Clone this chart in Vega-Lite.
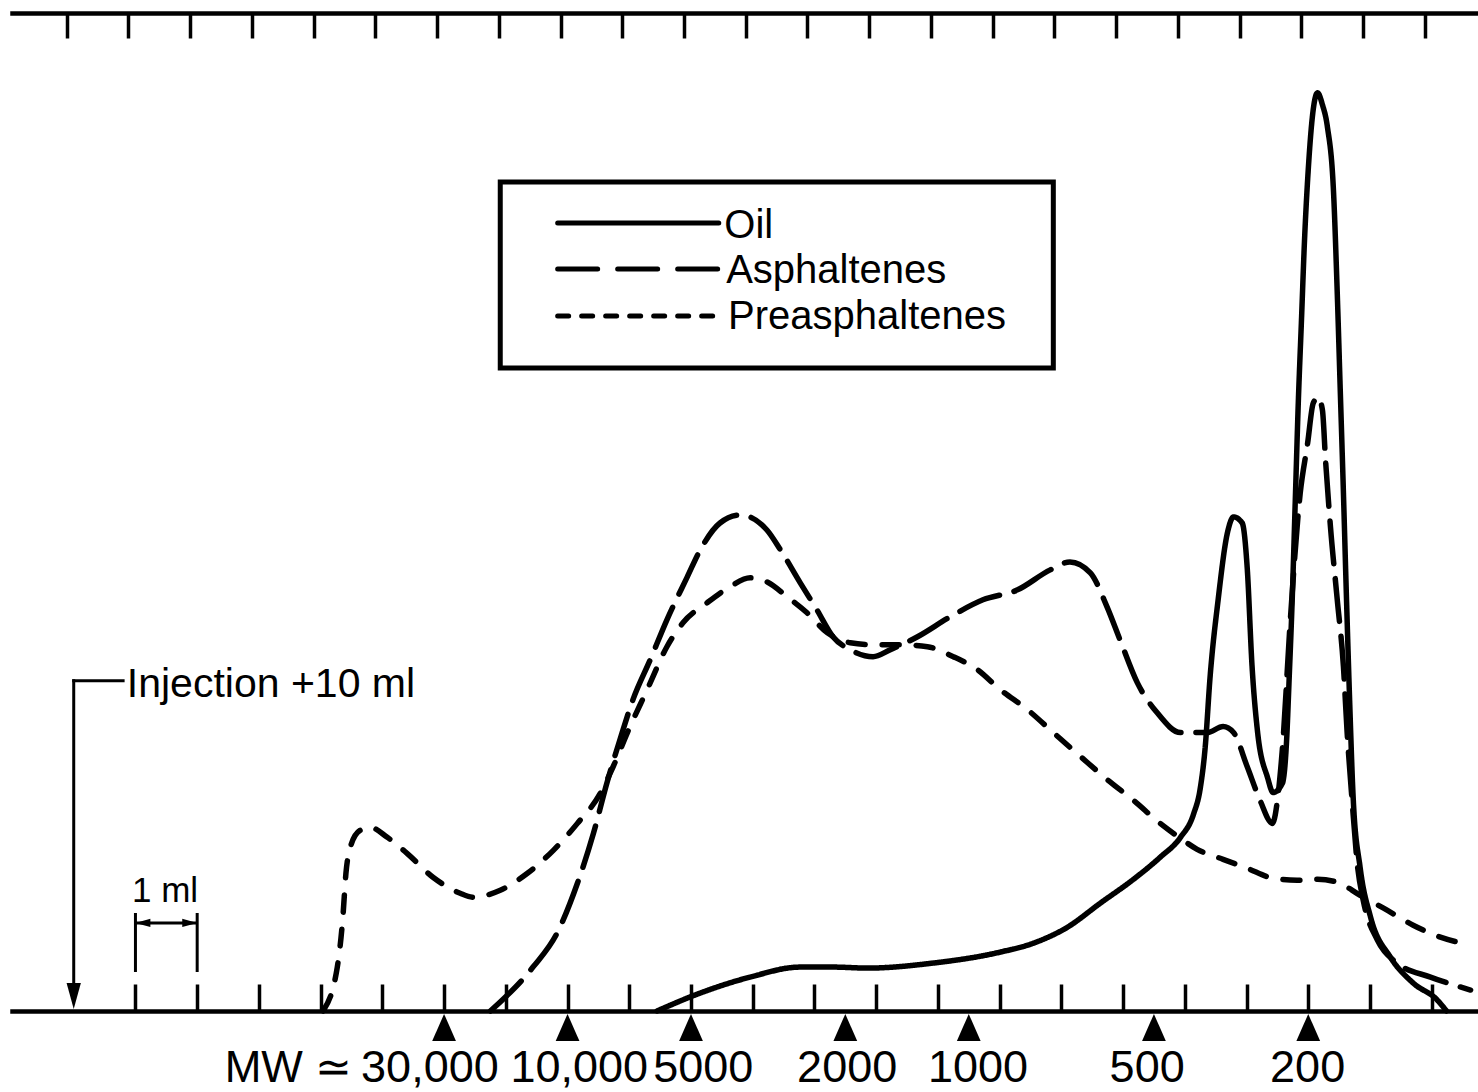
{
  "$schema": "https://vega.github.io/schema/vega-lite/v6.json",
  "width": 1466,
  "height": 998,
  "autosize": {"type": "none"},
  "padding": {"left": 12, "top": 13, "right": 0, "bottom": 81},
  "background": "white",
  "config": {"view": {"stroke": null}, "text": {"font": "Liberation Sans", "color": "black"}},
  "resolve": {"axis": {"x": "independent"}},
  "datasets": {
    "curves": [
      {"series": "Oil", "ml": 19.45, "val": 0},
      {"series": "Oil", "ml": 20.15, "val": 1.8},
      {"series": "Oil", "ml": 20.96, "val": 3.4},
      {"series": "Oil", "ml": 21.77, "val": 4.4},
      {"series": "Oil", "ml": 22.30, "val": 4.4},
      {"series": "Oil", "ml": 22.86, "val": 4.3},
      {"series": "Oil", "ml": 23.92, "val": 4.8},
      {"series": "Oil", "ml": 25.01, "val": 5.9},
      {"series": "Oil", "ml": 25.55, "val": 6.8},
      {"series": "Oil", "ml": 26.10, "val": 8.4},
      {"series": "Oil", "ml": 26.63, "val": 10.8},
      {"series": "Oil", "ml": 27.17, "val": 13.2},
      {"series": "Oil", "ml": 27.60, "val": 15.4},
      {"series": "Oil", "ml": 27.93, "val": 17.4},
      {"series": "Oil", "ml": 28.14, "val": 19.7},
      {"series": "Oil", "ml": 28.25, "val": 22.3},
      {"series": "Oil", "ml": 28.33, "val": 26.4},
      {"series": "Oil", "ml": 28.41, "val": 33.5},
      {"series": "Oil", "ml": 28.54, "val": 41.2},
      {"series": "Oil", "ml": 28.69, "val": 47.9},
      {"series": "Oil", "ml": 28.79, "val": 49.5},
      {"series": "Oil", "ml": 28.93, "val": 48.9},
      {"series": "Oil", "ml": 29.01, "val": 44.5},
      {"series": "Oil", "ml": 29.09, "val": 34.5},
      {"series": "Oil", "ml": 29.18, "val": 27.9},
      {"series": "Oil", "ml": 29.34, "val": 23.4},
      {"series": "Oil", "ml": 29.43, "val": 21.9},
      {"series": "Oil", "ml": 29.58, "val": 22.8},
      {"series": "Oil", "ml": 29.65, "val": 27.2},
      {"series": "Oil", "ml": 29.69, "val": 33.2},
      {"series": "Oil", "ml": 29.74, "val": 41.2},
      {"series": "Oil", "ml": 29.79, "val": 51.2},
      {"series": "Oil", "ml": 29.84, "val": 61.2},
      {"series": "Oil", "ml": 29.89, "val": 69.2},
      {"series": "Oil", "ml": 29.94, "val": 77.3},
      {"series": "Oil", "ml": 30.00, "val": 84.3},
      {"series": "Oil", "ml": 30.08, "val": 90.3},
      {"series": "Oil", "ml": 30.15, "val": 92.0},
      {"series": "Oil", "ml": 30.23, "val": 90.8},
      {"series": "Oil", "ml": 30.31, "val": 88.6},
      {"series": "Oil", "ml": 30.41, "val": 82.0},
      {"series": "Oil", "ml": 30.47, "val": 71.9},
      {"series": "Oil", "ml": 30.52, "val": 61.9},
      {"series": "Oil", "ml": 30.57, "val": 51.9},
      {"series": "Oil", "ml": 30.62, "val": 41.2},
      {"series": "Oil", "ml": 30.67, "val": 31.2},
      {"series": "Oil", "ml": 30.73, "val": 21.1},
      {"series": "Oil", "ml": 30.84, "val": 14.4},
      {"series": "Oil", "ml": 31.01, "val": 9.4},
      {"series": "Oil", "ml": 31.33, "val": 5.4},
      {"series": "Oil", "ml": 31.70, "val": 2.8},
      {"series": "Oil", "ml": 32.09, "val": 1.1},
      {"series": "Oil", "ml": 32.24, "val": 0},
      {"series": "Asphaltenes", "ml": 16.75, "val": 0},
      {"series": "Asphaltenes", "ml": 17.44, "val": 4.4},
      {"series": "Asphaltenes", "ml": 17.83, "val": 7.8},
      {"series": "Asphaltenes", "ml": 18.16, "val": 12.8},
      {"series": "Asphaltenes", "ml": 18.42, "val": 17.8},
      {"series": "Asphaltenes", "ml": 18.64, "val": 22.9},
      {"series": "Asphaltenes", "ml": 18.85, "val": 27.2},
      {"series": "Asphaltenes", "ml": 19.06, "val": 31.2},
      {"series": "Asphaltenes", "ml": 19.34, "val": 35.2},
      {"series": "Asphaltenes", "ml": 19.61, "val": 39.2},
      {"series": "Asphaltenes", "ml": 19.94, "val": 43.5},
      {"series": "Asphaltenes", "ml": 20.15, "val": 46.2},
      {"series": "Asphaltenes", "ml": 20.47, "val": 48.9},
      {"series": "Asphaltenes", "ml": 20.80, "val": 49.7},
      {"series": "Asphaltenes", "ml": 21.23, "val": 48.2},
      {"series": "Asphaltenes", "ml": 21.45, "val": 46.2},
      {"series": "Asphaltenes", "ml": 21.77, "val": 42.9},
      {"series": "Asphaltenes", "ml": 22.04, "val": 40.2},
      {"series": "Asphaltenes", "ml": 22.30, "val": 37.5},
      {"series": "Asphaltenes", "ml": 22.58, "val": 36.2},
      {"series": "Asphaltenes", "ml": 22.95, "val": 35.5},
      {"series": "Asphaltenes", "ml": 23.23, "val": 36.2},
      {"series": "Asphaltenes", "ml": 23.67, "val": 37.5},
      {"series": "Asphaltenes", "ml": 24.20, "val": 39.5},
      {"series": "Asphaltenes", "ml": 24.73, "val": 41.2},
      {"series": "Asphaltenes", "ml": 25.29, "val": 42.2},
      {"series": "Asphaltenes", "ml": 25.82, "val": 44.2},
      {"series": "Asphaltenes", "ml": 26.14, "val": 45.0},
      {"series": "Asphaltenes", "ml": 26.47, "val": 43.9},
      {"series": "Asphaltenes", "ml": 26.74, "val": 40.5},
      {"series": "Asphaltenes", "ml": 26.95, "val": 37.2},
      {"series": "Asphaltenes", "ml": 27.23, "val": 32.9},
      {"series": "Asphaltenes", "ml": 27.55, "val": 29.9},
      {"series": "Asphaltenes", "ml": 27.93, "val": 27.9},
      {"series": "Asphaltenes", "ml": 28.36, "val": 27.9},
      {"series": "Asphaltenes", "ml": 28.62, "val": 28.5},
      {"series": "Asphaltenes", "ml": 28.79, "val": 27.9},
      {"series": "Asphaltenes", "ml": 29.01, "val": 24.5},
      {"series": "Asphaltenes", "ml": 29.22, "val": 21.1},
      {"series": "Asphaltenes", "ml": 29.42, "val": 18.8},
      {"series": "Asphaltenes", "ml": 29.50, "val": 21.1},
      {"series": "Asphaltenes", "ml": 29.58, "val": 26.2},
      {"series": "Asphaltenes", "ml": 29.71, "val": 39.2},
      {"series": "Asphaltenes", "ml": 29.87, "val": 51.9},
      {"series": "Asphaltenes", "ml": 29.99, "val": 56.9},
      {"series": "Asphaltenes", "ml": 30.08, "val": 60.9},
      {"series": "Asphaltenes", "ml": 30.16, "val": 61.5},
      {"series": "Asphaltenes", "ml": 30.23, "val": 60.2},
      {"series": "Asphaltenes", "ml": 30.28, "val": 55.2},
      {"series": "Asphaltenes", "ml": 30.36, "val": 48.5},
      {"series": "Asphaltenes", "ml": 30.47, "val": 41.2},
      {"series": "Asphaltenes", "ml": 30.57, "val": 34.5},
      {"series": "Asphaltenes", "ml": 30.63, "val": 27.9},
      {"series": "Asphaltenes", "ml": 30.71, "val": 21.1},
      {"series": "Asphaltenes", "ml": 30.80, "val": 14.4},
      {"series": "Asphaltenes", "ml": 30.89, "val": 11.1},
      {"series": "Asphaltenes", "ml": 31.12, "val": 7.1},
      {"series": "Asphaltenes", "ml": 31.44, "val": 4.8},
      {"series": "Asphaltenes", "ml": 31.98, "val": 3.4},
      {"series": "Asphaltenes", "ml": 32.63, "val": 2.1},
      {"series": "Preasphaltenes", "ml": 14.04, "val": 0},
      {"series": "Preasphaltenes", "ml": 14.27, "val": 4.4},
      {"series": "Preasphaltenes", "ml": 14.36, "val": 9.4},
      {"series": "Preasphaltenes", "ml": 14.41, "val": 13.8},
      {"series": "Preasphaltenes", "ml": 14.48, "val": 16.4},
      {"series": "Preasphaltenes", "ml": 14.64, "val": 18.1},
      {"series": "Preasphaltenes", "ml": 14.80, "val": 18.4},
      {"series": "Preasphaltenes", "ml": 15.08, "val": 17.4},
      {"series": "Preasphaltenes", "ml": 15.40, "val": 15.8},
      {"series": "Preasphaltenes", "ml": 15.82, "val": 13.4},
      {"series": "Preasphaltenes", "ml": 16.26, "val": 11.8},
      {"series": "Preasphaltenes", "ml": 16.47, "val": 11.4},
      {"series": "Preasphaltenes", "ml": 16.91, "val": 12.1},
      {"series": "Preasphaltenes", "ml": 17.35, "val": 13.8},
      {"series": "Preasphaltenes", "ml": 17.77, "val": 16.1},
      {"series": "Preasphaltenes", "ml": 18.16, "val": 18.8},
      {"series": "Preasphaltenes", "ml": 18.53, "val": 21.8},
      {"series": "Preasphaltenes", "ml": 18.74, "val": 24.5},
      {"series": "Preasphaltenes", "ml": 18.97, "val": 27.9},
      {"series": "Preasphaltenes", "ml": 19.29, "val": 32.2},
      {"series": "Preasphaltenes", "ml": 19.61, "val": 36.5},
      {"series": "Preasphaltenes", "ml": 19.87, "val": 38.9},
      {"series": "Preasphaltenes", "ml": 20.26, "val": 40.9},
      {"series": "Preasphaltenes", "ml": 20.63, "val": 42.5},
      {"series": "Preasphaltenes", "ml": 20.96, "val": 43.4},
      {"series": "Preasphaltenes", "ml": 21.23, "val": 43.0},
      {"series": "Preasphaltenes", "ml": 21.56, "val": 41.5},
      {"series": "Preasphaltenes", "ml": 21.88, "val": 39.9},
      {"series": "Preasphaltenes", "ml": 22.21, "val": 37.9},
      {"series": "Preasphaltenes", "ml": 22.58, "val": 36.9},
      {"series": "Preasphaltenes", "ml": 22.95, "val": 36.7},
      {"series": "Preasphaltenes", "ml": 23.39, "val": 36.7},
      {"series": "Preasphaltenes", "ml": 23.83, "val": 36.5},
      {"series": "Preasphaltenes", "ml": 24.25, "val": 35.5},
      {"series": "Preasphaltenes", "ml": 24.64, "val": 34.2},
      {"series": "Preasphaltenes", "ml": 25.01, "val": 32.2},
      {"series": "Preasphaltenes", "ml": 25.45, "val": 30.2},
      {"series": "Preasphaltenes", "ml": 25.87, "val": 27.9},
      {"series": "Preasphaltenes", "ml": 26.31, "val": 25.5},
      {"series": "Preasphaltenes", "ml": 26.74, "val": 23.2},
      {"series": "Preasphaltenes", "ml": 27.17, "val": 21.1},
      {"series": "Preasphaltenes", "ml": 27.60, "val": 18.8},
      {"series": "Preasphaltenes", "ml": 27.93, "val": 17.3},
      {"series": "Preasphaltenes", "ml": 28.20, "val": 16.2},
      {"series": "Preasphaltenes", "ml": 28.62, "val": 15.2},
      {"series": "Preasphaltenes", "ml": 29.01, "val": 14.3},
      {"series": "Preasphaltenes", "ml": 29.43, "val": 13.3},
      {"series": "Preasphaltenes", "ml": 29.82, "val": 13.1},
      {"series": "Preasphaltenes", "ml": 30.15, "val": 13.2},
      {"series": "Preasphaltenes", "ml": 30.47, "val": 12.9},
      {"series": "Preasphaltenes", "ml": 30.84, "val": 11.6},
      {"series": "Preasphaltenes", "ml": 31.22, "val": 10.3},
      {"series": "Preasphaltenes", "ml": 31.70, "val": 8.6},
      {"series": "Preasphaltenes", "ml": 32.14, "val": 7.4},
      {"series": "Preasphaltenes", "ml": 32.56, "val": 6.7}
    ],
    "mw": [
      {"mw": "30,000", "ml": 16.0, "lx": 15.77},
      {"mw": "10,000", "ml": 18.0, "lx": 18.19},
      {"mw": "5000", "ml": 20.0, "lx": 20.2},
      {"mw": "2000", "ml": 22.5, "lx": 22.53},
      {"mw": "1000", "ml": 24.5, "lx": 24.65},
      {"mw": "500", "ml": 27.5, "lx": 27.39},
      {"mw": "200", "ml": 30.0, "lx": 29.99}
    ]
  },
  "layer": [
    {
      "data": {"name": "curves"},
      "mark": {"type": "line", "interpolate": "monotone", "strokeWidth": 5.5, "strokeCap": "round", "strokeJoin": "round", "color": "black"},
      "encoding": {
        "x": {"field": "ml", "type": "quantitative", "scale": {"domain": [9, 32.75], "nice": false, "zero": false},
          "axis": {"orient": "bottom", "values": [11,12,13,14,15,16,17,18,19,20,21,22,23,24,25,26,27,28,29,30,31,32], "labels": false, "title": null, "grid": false, "domain": true, "domainWidth": 4.5, "domainColor": "black", "domainCap": "square", "ticks": true, "tickSize": -27, "tickWidth": 3.5, "tickColor": "black"}},
        "y": {"field": "val", "type": "quantitative", "scale": {"domain": [0, 100], "nice": false, "zero": false},
          "axis": {"orient": "left", "domain": true, "domainWidth": 4.5, "domainColor": "black", "domainCap": "square", "ticks": false, "labels": false, "grid": false, "title": null}},
        "strokeDash": {"field": "series", "type": "nominal", "scale": {"domain": ["Oil", "Asphaltenes", "Preasphaltenes"], "range": [[1, 0], [43, 15], [17, 17]]}, "legend": null}
      }
    },
    {
      "data": {"name": "mw"},
      "mark": {"type": "point", "shape": "M0,-1L0.88,1L-0.88,1Z", "filled": true, "color": "black", "opacity": 1, "size": 729},
      "encoding": {
        "x": {"field": "ml", "type": "quantitative", "scale": {"domain": [9, 32.75], "nice": false, "zero": false},
          "axis": {"orient": "top", "values": [10,11,12,13,14,15,16,17,18,19,20,21,22,23,24,25,26,27,28,29,30,31,32], "labels": false, "title": null, "grid": false, "domain": true, "domainWidth": 4.5, "domainColor": "black", "domainCap": "square", "ticks": true, "tickSize": -25, "tickWidth": 3.5, "tickColor": "black", "tickOffset": -7}},
        "y": {"datum": -1.65, "scale": {"domain": [0, 100], "nice": false, "zero": false}, "axis": null}
      }
    },
    {
      "data": {"name": "mw"},
      "mark": {"type": "text", "fontSize": 45, "align": "center", "baseline": "alphabetic"},
      "encoding": {
        "x": {"field": "lx", "type": "quantitative", "axis": null},
        "y": {"datum": -7.11, "axis": null},
        "text": {"field": "mw"}
      }
    },
    {
      "data": {"values": [{"label": "MW ≃"}]},
      "mark": {"type": "text", "fontSize": 44, "align": "right", "baseline": "alphabetic"},
      "encoding": {
        "x": {"datum": 14.51, "axis": null},
        "y": {"datum": -7.11, "axis": null},
        "text": {"field": "label"}
      }
    },
    {
      "data": {"values": [{}]},
      "mark": {"type": "rule", "strokeWidth": 3, "color": "black", "strokeCap": "square"},
      "encoding": {
        "x": {"datum": 10, "axis": null},
        "y": {"datum": 33.1, "axis": null},
        "y2": {"datum": 2.6}
      }
    },
    {
      "data": {"values": [{}]},
      "mark": {"type": "rule", "strokeWidth": 3, "color": "black", "strokeCap": "square"},
      "encoding": {
        "x": {"datum": 10, "axis": null},
        "x2": {"datum": 10.8},
        "y": {"datum": 33.1, "axis": null}
      }
    },
    {
      "data": {"values": [{}]},
      "mark": {"type": "point", "shape": "M0,1L-0.55,-1L0.55,-1Z", "filled": true, "color": "black", "opacity": 1, "size": 676},
      "encoding": {
        "x": {"datum": 10, "axis": null},
        "y": {"datum": 1.5, "axis": null}
      }
    },
    {
      "data": {"values": [{"label": "Injection +10 ml"}]},
      "mark": {"type": "text", "fontSize": 41, "align": "left", "baseline": "alphabetic"},
      "encoding": {
        "x": {"datum": 10.86, "axis": null},
        "y": {"datum": 31.46, "axis": null},
        "text": {"field": "label"}
      }
    },
    {
      "data": {"values": [{"edge": 11}, {"edge": 12}]},
      "mark": {"type": "rule", "strokeWidth": 3, "color": "black"},
      "encoding": {
        "x": {"field": "edge", "type": "quantitative", "axis": null},
        "y": {"datum": 9.82, "axis": null},
        "y2": {"datum": 3.91}
      }
    },
    {
      "data": {"values": [{}]},
      "mark": {"type": "rule", "strokeWidth": 3, "color": "black"},
      "encoding": {
        "x": {"datum": 11, "axis": null},
        "x2": {"datum": 12},
        "y": {"datum": 8.82, "axis": null}
      }
    },
    {
      "data": {"values": [{}]},
      "mark": {"type": "point", "shape": "M-1,0L1,-0.55L1,0.55Z", "filled": true, "color": "black", "opacity": 1, "size": 225},
      "encoding": {
        "x": {"datum": 11.12, "axis": null},
        "y": {"datum": 8.82, "axis": null}
      }
    },
    {
      "data": {"values": [{}]},
      "mark": {"type": "point", "shape": "M1,0L-1,-0.55L-1,0.55Z", "filled": true, "color": "black", "opacity": 1, "size": 225},
      "encoding": {
        "x": {"datum": 11.88, "axis": null},
        "y": {"datum": 8.82, "axis": null}
      }
    },
    {
      "data": {"values": [{"label": "1 ml"}]},
      "mark": {"type": "text", "fontSize": 35, "align": "center", "baseline": "alphabetic"},
      "encoding": {
        "x": {"datum": 11.48, "axis": null},
        "y": {"datum": 10.92, "axis": null},
        "text": {"field": "label"}
      }
    },
    {
      "data": {"values": [{}]},
      "mark": {"type": "rect", "fill": "white", "stroke": "black", "strokeWidth": 5},
      "encoding": {
        "x": {"datum": 16.91, "axis": null},
        "x2": {"datum": 25.87},
        "y": {"datum": 83.07, "axis": null},
        "y2": {"datum": 64.43}
      }
    },
    {
      "data": {"values": [{}]},
      "mark": {"type": "rule", "strokeWidth": 5, "color": "black", "strokeCap": "round"},
      "encoding": {
        "x": {"datum": 17.84, "axis": null},
        "x2": {"datum": 20.45},
        "y": {"datum": 78.96, "axis": null}
      }
    },
    {
      "data": {"values": [{}]},
      "mark": {"type": "rule", "strokeWidth": 5, "color": "black", "strokeCap": "round", "strokeDash": [40, 20]},
      "encoding": {
        "x": {"datum": 17.84, "axis": null},
        "x2": {"datum": 20.45},
        "y": {"datum": 74.35, "axis": null}
      }
    },
    {
      "data": {"values": [{}]},
      "mark": {"type": "rule", "strokeWidth": 5, "color": "black", "strokeCap": "round", "strokeDash": [11, 13]},
      "encoding": {
        "x": {"datum": 17.84, "axis": null},
        "x2": {"datum": 20.45},
        "y": {"datum": 69.64, "axis": null}
      }
    },
    {
      "data": {"values": [{"label": "Oil"}]},
      "mark": {"type": "text", "fontSize": 40, "align": "left", "baseline": "alphabetic"},
      "encoding": {
        "x": {"datum": 20.54, "axis": null},
        "y": {"datum": 77.45, "axis": null},
        "text": {"field": "label"}
      }
    },
    {
      "data": {"values": [{"label": "Asphaltenes"}]},
      "mark": {"type": "text", "fontSize": 40, "align": "left", "baseline": "alphabetic"},
      "encoding": {
        "x": {"datum": 20.57, "axis": null},
        "y": {"datum": 72.95, "axis": null},
        "text": {"field": "label"}
      }
    },
    {
      "data": {"values": [{"label": "Preasphaltenes"}]},
      "mark": {"type": "text", "fontSize": 40, "align": "left", "baseline": "alphabetic"},
      "encoding": {
        "x": {"datum": 20.6, "axis": null},
        "y": {"datum": 68.34, "axis": null},
        "text": {"field": "label"}
      }
    }
  ]
}
